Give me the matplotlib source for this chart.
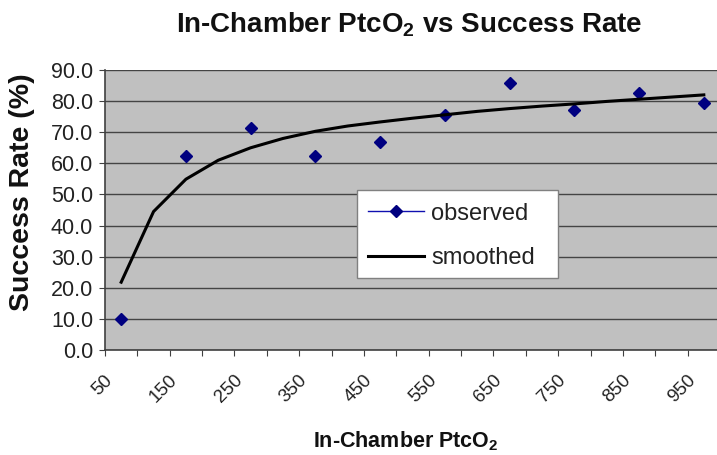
import numpy as np
import matplotlib
matplotlib.use('Agg')
import matplotlib.pyplot as plt
import matplotlib.transforms as mtransforms
from matplotlib.patches import Rectangle

plt.rcParams['font.family'] = ['Liberation Sans', 'DejaVu Sans']
plt.rcParams['mathtext.fontset'] = 'custom'
plt.rcParams['mathtext.rm'] = 'Liberation Sans'
plt.rcParams['mathtext.bf'] = 'Liberation Sans:bold'

# category axis: in-chamber PtcO2 (mmHg)
ptco2 = [50, 100, 150, 200, 250, 300, 350, 400, 450, 500,
         550, 600, 650, 700, 750, 800, 850, 900, 950]
# observed success rate, only every other category has data (gaps = empty cells)
observed = [10.0, np.nan, 62.5, np.nan, 71.5, np.nan, 62.5, np.nan, 66.9, np.nan,
            75.4, np.nan, 85.7, np.nan, 77.2, np.nan, 82.5, np.nan, 79.3]
smoothed = [21.8, 44.5, 54.9, 61.0, 65.0, 68.0, 70.3, 72.0, 73.3, 74.5,
            75.6, 76.7, 77.6, 78.4, 79.1, 79.9, 80.6, 81.3, 82.0]
label_ticks = [50, 150, 250, 350, 450, 550, 650, 750, 850, 950]

W, H = 717, 455
fig = plt.figure(figsize=(W / 100, H / 100), dpi=100)
ax = fig.add_axes([105 / W, 1 - 350 / H, (720 - 105) / W, (350 - 70) / H])
ax.set_facecolor('#c0c0c0')

ax.plot(ptco2, observed, color='#1010b0', lw=1, marker='D', ms=6,
        mfc='#000080', mec='#000080', label='observed', zorder=3)
ax.plot(ptco2, smoothed, color='black', lw=2.2, label='smoothed', zorder=4)

ax.set_ylim(0, 90)
ax.set_yticks(np.arange(0, 91, 10))
ax.set_yticklabels(['%.1f' % v for v in np.arange(0, 91, 10)])
ax.set_xlim(25, 975)
# tick marks between categories, labels on every other category
ax.set_xticks(np.arange(25, 976, 50))
ax.set_xticklabels([])
ax.set_xticks(label_ticks, minor=True)
ax.set_xticklabels([str(v) for v in label_ticks], minor=True, rotation=45,
                   ha='right', va='center', rotation_mode='anchor')
ax.tick_params(axis='x', which='minor', length=0, pad=20, labelsize=13.5, labelcolor='#222222')
ax.tick_params(axis='x', which='major', length=4, direction='out', color='#404040')
ax.tick_params(axis='y', length=4.5, pad=4, labelsize=15.5, labelcolor='#222222', color='#404040')
shift = mtransforms.ScaledTranslation(-11 / 100, 0, fig.dpi_scale_trans)
for lab in ax.get_xticklabels(minor=True):
    lab.set_transform(lab.get_transform() + shift)

ax.grid(axis='y', color='#444444', lw=1)
ax.set_axisbelow(True)
for s in ['top', 'right']:
    ax.spines[s].set_visible(False)
for s in ['left', 'bottom']:
    ax.spines[s].set_color('#404040')
    ax.spines[s].set_linewidth(1.2)

# legend box drawn separately (Excel legends have extra room on the right)
box = Rectangle((357 / W, 1 - 278 / H), (558 - 357) / W, (278 - 190) / H,
                transform=fig.transFigure, facecolor='white', edgecolor='#808080',
                lw=1, zorder=4.9)
ax.add_artist(box)
box.set_clip_on(False)
leg = ax.legend(loc='upper left', bbox_to_anchor=(357 / W, 1 - 192 / H),
                bbox_transform=fig.transFigure, borderaxespad=0, fontsize=17,
                handlelength=2.4, handletextpad=0.3, labelspacing=0.95,
                borderpad=0.45, frameon=False)
for t in leg.get_texts():
    t.set_color('#222222')

fig.text(409 / W, 1 - 25 / H, r'In-Chamber PtcO$_\mathbf{2}$ vs Success Rate',
         ha='center', va='center', fontsize=20, fontweight='bold', color='#111111')
fig.text(406 / W, 1 - 441 / H, r'In-Chamber PtcO$_\mathbf{2}$',
         ha='center', va='center', fontsize=15.5, fontweight='bold', color='#111111')
fig.text(22 / W, 1 - 192 / H, 'Success Rate (%)', rotation=90,
         ha='center', va='center', fontsize=20.5, fontweight='bold', color='#111111')

fig.savefig('out.png', dpi=100)
